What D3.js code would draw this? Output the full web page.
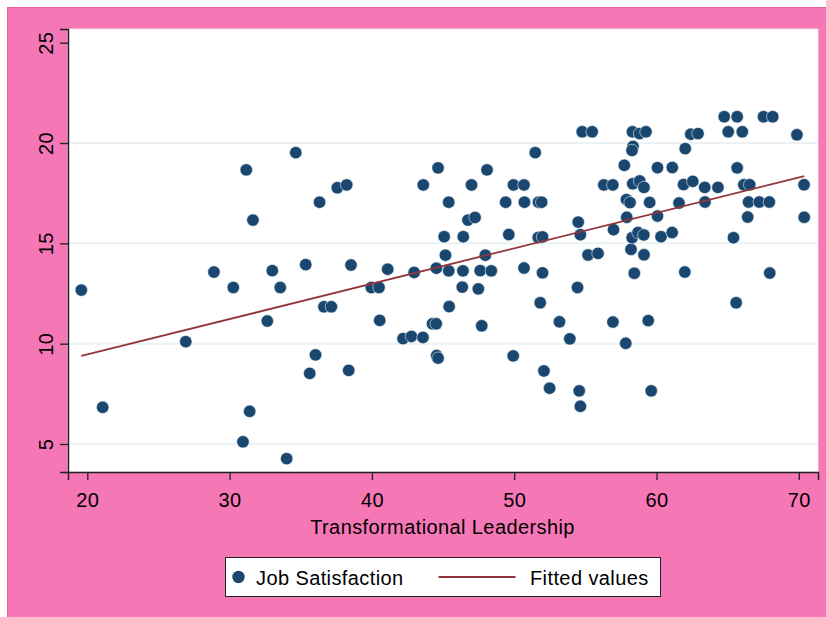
<!DOCTYPE html>
<html>
<head>
<meta charset="utf-8">
<script src="https://cdn.jsdelivr.net/npm/d3@7"></script>
<style>
  body { margin: 0; background: #ffffff; }
  text { font-family: Arial, "Liberation Sans", sans-serif; fill: #000; }
</style>
</head>
<body>
<div id="scatter"></div>
<script>
// Data
var leadership = [19.58, 21.08, 26.92, 28.90, 30.26, 30.94, 31.17, 31.41, 31.64, 32.65,
    33.00, 33.56, 34.01, 34.65, 35.35, 35.63, 36.04, 36.32, 36.63, 37.15,
    37.57, 38.23, 38.37, 38.53, 39.96, 40.50, 40.55, 41.11, 42.19, 42.78,
    42.97, 43.59, 43.61, 44.26, 44.52, 44.53, 44.55, 44.65, 44.65, 45.08,
    45.17, 45.40, 45.40, 45.43, 46.35, 46.40, 46.42, 46.75, 47.00, 47.25,
    47.48, 47.61, 47.72, 47.97, 48.09, 48.39, 49.40, 49.62, 49.93, 49.95,
    50.69, 50.69, 50.72, 51.48, 51.71, 51.93, 51.69, 51.99, 51.83, 51.99,
    52.09, 52.49, 53.18, 53.91, 54.45, 54.50, 54.57, 54.65, 54.65, 54.78,
    55.48, 55.19, 55.89, 56.30, 56.93, 56.94, 56.98, 57.74, 57.84, 57.89,
    58.14, 57.91, 58.21, 58.29, 58.35, 58.28, 58.31, 58.33, 58.44, 58.70,
    58.81, 58.82, 59.11, 59.12, 59.12, 59.26, 59.42, 59.52, 59.63, 60.07,
    60.07, 60.32, 61.11, 61.10, 61.58, 61.90, 61.99, 62.02, 62.41, 62.92,
    62.55, 63.39, 63.41, 64.32, 64.76, 65.04, 65.41, 65.60, 65.67, 65.67,
    66.03, 66.14, 66.55, 66.41, 66.47, 67.22, 67.52, 67.93, 67.96, 68.17,
    69.87, 70.37, 70.38];

var satisfaction = [12.67, 6.83, 10.10, 13.57, 12.80, 5.11, 18.66, 6.63, 16.16, 11.13,
    13.64, 12.80, 4.27, 19.52, 13.94, 8.52, 9.44, 17.05, 11.84, 11.84,
    17.77, 17.91, 8.67, 13.92, 12.80, 12.80, 11.16, 13.71, 10.25, 10.36,
    13.55, 10.31, 17.91, 10.99, 10.99, 13.76, 9.41, 9.28, 18.76, 15.33,
    14.41, 17.05, 13.63, 11.85, 12.82, 13.63, 15.33, 16.16, 17.91, 16.29,
    12.73, 13.64, 10.89, 14.41, 18.66, 13.63, 17.05, 15.44, 9.39, 17.91,
    17.91, 13.77, 17.05, 19.52, 17.05, 17.05, 15.29, 15.32, 12.04, 13.53,
    8.64, 7.78, 11.09, 10.24, 12.80, 16.06, 7.65, 15.43, 6.88, 20.56,
    20.56, 14.42, 14.50, 17.91, 17.91, 11.08, 15.68, 18.89, 10.02, 17.18,
    17.03, 16.30, 14.70, 15.28, 19.83, 19.63, 20.56, 17.97, 13.51, 15.54,
    20.47, 18.11, 15.42, 17.79, 14.43, 20.56, 11.15, 17.04, 7.65, 18.77,
    16.36, 15.33, 18.78, 15.54, 17.01, 17.93, 13.57, 19.72, 20.44, 20.47,
    18.09, 17.79, 17.06, 17.79, 21.31, 20.56, 15.28, 12.04, 21.31, 18.76,
    20.56, 17.92, 17.92, 16.31, 17.06, 17.06, 21.31, 17.06, 13.52, 21.31,
    20.41, 17.92, 16.30];

// fitted values line (end points)
var fitX = [19.58, 70.38];
var fitY = [9.39, 18.35];

var xTicks = [20, 30, 40, 50, 60, 70];
var yTicks = [5, 10, 15, 20, 25];
var yGrid = [5, 10, 15, 20];
var legendLabels = ["Job Satisfaction", "Fitted values"];

// Chart Params
var svgWidth = 826;
var svgHeight = 617;

var margin = {
    top: 29,
    right: 8,
    bottom: 145,
    left: 68
};

var width = svgWidth - margin.left - margin.right;
var height = svgHeight - margin.top - margin.bottom;

var fontSize = "20px";
var letterSp = "0.4px";

var svg = d3.select("#scatter")
    .append("svg")
    .attr("width", svgWidth)
    .attr("height", svgHeight);

// pink graph region
svg.append("rect")
    .attr("x", 7.5)
    .attr("y", 7.5)
    .attr("width", svgWidth)
    .attr("height", svgHeight)
    .attr("fill", "#f577b5")
    .attr("stroke", "#ee5fa5")
    .attr("stroke-width", 1);

var chartGroup = svg.append("g")
    .attr("transform", `translate(${margin.left}, ${margin.top})`);

// plot region
chartGroup.append("rect")
    .attr("x", 0)
    .attr("y", 0)
    .attr("width", width)
    .attr("height", height)
    .attr("fill", "#ffffff")
    .attr("stroke", "#f3e6ee")
    .attr("stroke-width", 1);

var x = d3.scaleLinear()
    .domain([18.644, 71.35])
    .range([0, width]);

var y = d3.scaleLinear()
    .domain([3.605, 25.683])
    .range([height, 0]);

// gridlines
chartGroup.selectAll(".grid")
    .data(yGrid)
    .enter()
    .append("line")
    .attr("x1", 0)
    .attr("x2", width)
    .attr("y1", d => y(d))
    .attr("y2", d => y(d))
    .attr("stroke", "#eaf2f3")
    .attr("stroke-width", 2);

// axes
var bottomAxis = d3.axisBottom(x).tickValues(xTicks).tickSizeOuter(0).tickSize(8).tickPadding(13);
var leftAxis = d3.axisLeft(y).tickValues(yTicks).tickSizeOuter(0).tickSize(8);

var xAxis = chartGroup.append("g")
    .attr("transform", `translate(0, ${height})`)
    .call(bottomAxis);

xAxis.select(".domain").attr("stroke", "#222").attr("stroke-width", 1.5);
xAxis.selectAll(".tick line").attr("stroke", "#222").attr("stroke-width", 1.3);
xAxis.selectAll(".tick text")
    .attr("font-size", fontSize)
    .attr("letter-spacing", letterSp)
    .attr("font-family", "Arial, 'Liberation Sans', sans-serif")
    .attr("fill", "#000");

var yAxis = chartGroup.append("g")
    .call(leftAxis);

yAxis.select(".domain").attr("stroke", "#222").attr("stroke-width", 1.5);
yAxis.selectAll(".tick line").attr("stroke", "#222").attr("stroke-width", 1.3);
yAxis.selectAll(".tick text")
    .attr("font-size", fontSize)
    .attr("letter-spacing", letterSp)
    .attr("font-family", "Arial, 'Liberation Sans', sans-serif")
    .attr("fill", "#000")
    .attr("text-anchor", "middle")
    .attr("x", 0)
    .attr("dy", 0)
    .attr("transform", "translate(-15.5, 0) rotate(-90)");

// points
var pts = leadership.map((v, i) => ({ x: v, y: satisfaction[i] }));

chartGroup.selectAll("circle.pt")
    .data(pts)
    .enter()
    .append("circle")
    .attr("class", "pt")
    .attr("cx", d => x(d.x))
    .attr("cy", d => y(d.y))
    .attr("r", 6.2)
    .attr("fill", "#1a476f")
    .attr("stroke", "#e8eef4")
    .attr("stroke-width", 0.6);

// fitted line
var line = d3.line()
    .x(d => x(d[0]))
    .y(d => y(d[1]));

chartGroup.append("path")
    .datum(fitX.map((v, i) => [v, fitY[i]]))
    .attr("d", line)
    .attr("fill", "none")
    .attr("stroke", "#90353b")
    .attr("stroke-width", 1.8);

// x axis title
svg.append("text")
    .attr("x", 442.5)
    .attr("y", 534)
    .attr("text-anchor", "middle")
    .attr("font-size", fontSize)
    .attr("letter-spacing", letterSp)
    .text("Transformational Leadership");

// legend
var legend = svg.append("g")
    .attr("transform", "translate(225.5, 557.5)");

legend.append("rect")
    .attr("width", 435)
    .attr("height", 39)
    .attr("fill", "#ffffff")
    .attr("stroke", "#222")
    .attr("stroke-width", 1);

legend.append("circle")
    .attr("cx", 13)
    .attr("cy", 19.5)
    .attr("r", 6.2)
    .attr("fill", "#1a476f");

legend.append("text")
    .attr("x", 30.5)
    .attr("y", 27)
    .attr("font-size", fontSize)
    .attr("letter-spacing", letterSp)
    .text(legendLabels[0]);

legend.append("line")
    .attr("x1", 213)
    .attr("x2", 290)
    .attr("y1", 19.5)
    .attr("y2", 19.5)
    .attr("stroke", "#90353b")
    .attr("stroke-width", 1.8);

legend.append("text")
    .attr("x", 304.5)
    .attr("y", 27)
    .attr("font-size", fontSize)
    .attr("letter-spacing", letterSp)
    .text(legendLabels[1]);
</script>
</body>
</html>
